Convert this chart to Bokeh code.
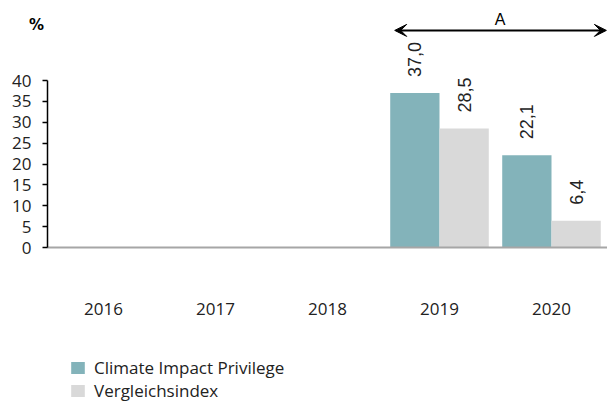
import math
from bokeh.plotting import figure
from bokeh.models import (ColumnDataSource, Range1d, FixedTicker, Legend, LegendItem,
                          Arrow, VeeHead, Label, LinearAxis)
from bokeh.transform import dodge
from bokeh.core.properties import value
from bokeh.embed import file_html
from bokeh.resources import INLINE

years = ["2016", "2017", "2018", "2019", "2020"]
climate = [None, None, None, 37.0, 22.1]
vergleich = [None, None, None, 28.5, 6.4]
series_names = ["Climate Impact Privilege", "Vergleichsindex"]
y_ticks = [0, 5, 10, 15, 20, 25, 30, 35, 40]
span_label = "A"
unit_label = "%"

TEAL = "#83B3BA"
GREY = "#D9D9D9"
TXT = "#222222"

def fmt(v):
    return ("%.1f" % v).replace(".", ",")

# category slot i occupies [i, i+1]; its centre is i + 0.5
cat_pos = {y: i + 0.5 for i, y in enumerate(years)}

def make_src(vals):
    xs = [cat_pos[y] for y, v in zip(years, vals) if v is not None]
    vs = [v for v in vals if v is not None]
    return ColumnDataSource(dict(x=xs, top=vs, lab=[fmt(v) for v in vs]))

src_c = make_src(climate)
src_v = make_src(vergleich)

W, H = 607, 401
SLOT_PX = 112.0          # pixel width of one category slot
UNIT_PX = 4.175          # pixels per percentage point
X0_PX, Y0_PX = 47, 247   # where category axis origin / value 0 lie in the page

p = figure(width=W, height=H,
           x_range=Range1d(-X0_PX / SLOT_PX, (W - X0_PX) / SLOT_PX),
           y_range=Range1d(-(H - Y0_PX) / UNIT_PX, Y0_PX / UNIT_PX),
           output_backend="svg", toolbar_location=None,
           min_border_left=0, min_border_right=0, min_border_top=0, min_border_bottom=0,
           x_axis_location=None, y_axis_location=None)
p.outline_line_color = None
p.grid.grid_line_color = None
p.background_fill_color = "white"
p.border_fill_color = "white"

r1 = p.vbar(x=dodge("x", -0.22), top="top", width=0.44, source=src_c,
            fill_color=TEAL, line_color=None)
r2 = p.vbar(x=dodge("x", 0.22), top="top", width=0.44, source=src_v,
            fill_color=GREY, line_color=None)

for src, off in ((src_c, -0.22), (src_v, 0.22)):
    p.text(x=dodge("x", off), y="top", text="lab", source=src,
           angle=math.pi / 2, text_align="left", text_baseline="middle",
           y_offset=-16, text_font=value("Liberation Sans"), text_font_size="18px",
           text_color=TXT)

yax = LinearAxis(fixed_location=0, ticker=FixedTicker(ticks=y_ticks), bounds=(0, 40))
yax.axis_line_color = "black"
yax.axis_line_width = 1.5
yax.major_tick_line_color = "black"
yax.major_tick_line_width = 1.5
yax.major_tick_out = 5
yax.major_tick_in = 0
yax.minor_tick_line_color = None
yax.major_label_standoff = 11
yax.major_label_text_font = "Open Sans"
yax.major_label_text_font_size = "17px"
yax.major_label_text_color = TXT
p.add_layout(yax, "left")

xax = LinearAxis(fixed_location=0, ticker=FixedTicker(ticks=[cat_pos[y] for y in years]),
                 bounds=(0, len(years)))
xax.major_label_overrides = {cat_pos[y]: y for y in years}
xax.axis_line_color = "#A6A6A6"
xax.axis_line_width = 2
xax.major_tick_line_color = None
xax.minor_tick_line_color = None
xax.major_label_standoff = 49
xax.major_label_text_font = "Open Sans"
xax.major_label_text_font_size = "17px"
xax.major_label_text_color = TXT
p.add_layout(xax, "below")

# span arrow over 2019-2020
p.add_layout(Arrow(x_start=3.1, x_end=4.99, y_start=52.0, y_end=52.0, line_width=2,
                   line_color="black",
                   start=VeeHead(size=12, fill_color="black", line_color="black"),
                   end=VeeHead(size=12, fill_color="black", line_color="black")))
p.add_layout(Label(x=4.04, y=54.6, text=span_label, text_align="center", text_baseline="middle",
                   text_font="Liberation Sans", text_font_size="16px", text_color="black"))
p.add_layout(Label(x=-0.098, y=53.4, text=unit_label, text_align="center",
                   text_baseline="middle", text_font="DejaVu Sans", text_font_style="bold",
                   text_font_size="15px", text_color="black"))

legend = Legend(items=[LegendItem(label=series_names[0], renderers=[r1]),
                       LegendItem(label=series_names[1], renderers=[r2])],
                location=(69, -1), orientation="vertical",
                glyph_width=17, glyph_height=15, label_height=18, spacing=-1,
                label_standoff=8, padding=0, margin=0,
                label_text_font="Open Sans", label_text_font_size="17px",
                label_text_color=TXT, border_line_color=None, background_fill_alpha=0)
p.add_layout(legend, "center")

open("out.html", "w").write(file_html(p, INLINE))
